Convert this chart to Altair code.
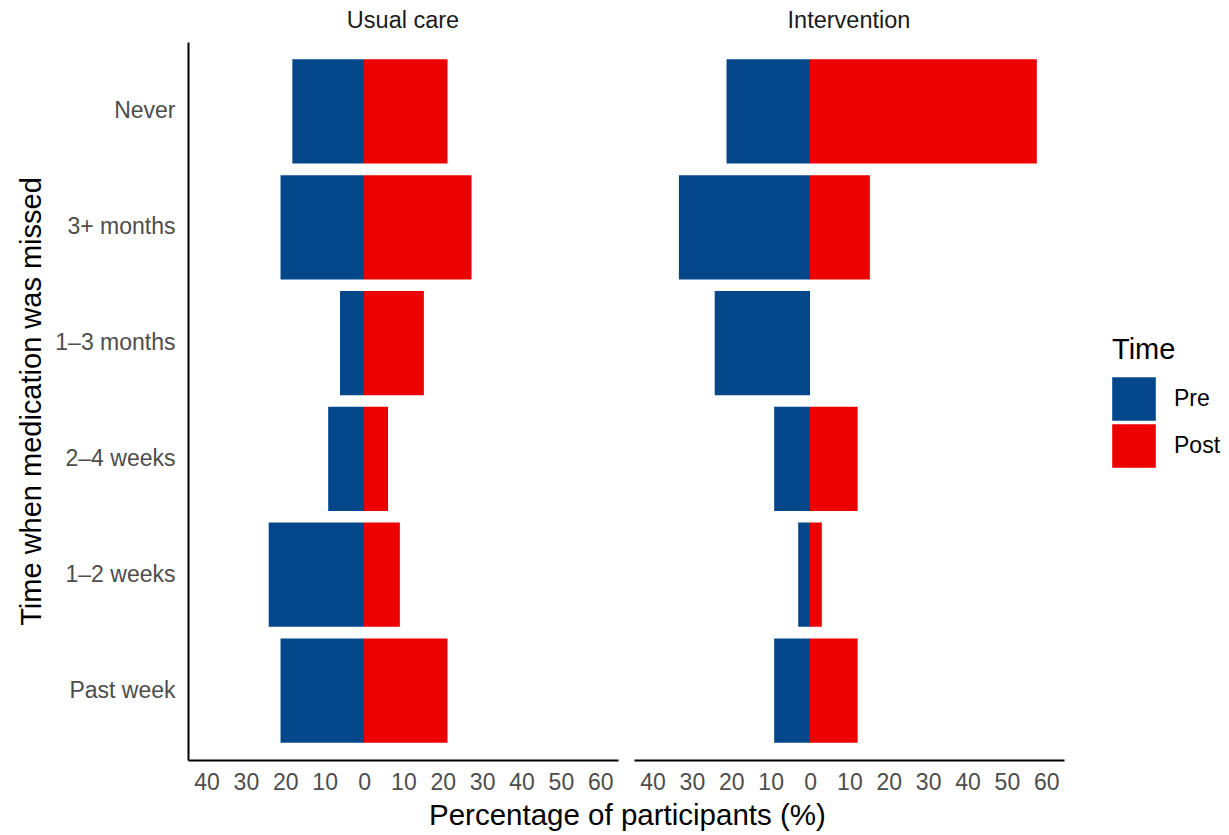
import altair as alt
import pandas as pd

categories = ["Never", "3+ months", "1–3 months", "2–4 weeks", "1–2 weeks", "Past week"]
groups = ["Usual care", "Intervention"]
times = ["Pre", "Post"]
usual_pre = [18.2, 21.2, 6.1, 9.1, 24.2, 21.2]
usual_post = [21.2, 27.3, 15.2, 6.1, 9.1, 21.2]
interv_pre = [21.2, 33.3, 24.2, 9.1, 3.0, 9.1]
interv_post = [57.6, 15.2, 0.0, 12.1, 3.0, 12.1]
tick_values = [-40, -30, -20, -10, 0, 10, 20, 30, 40, 50, 60]

rows = []
for g, pre, post in [("Usual care", usual_pre, usual_post), ("Intervention", interv_pre, interv_post)]:
    for c, v in zip(categories, pre):
        rows.append({"group": g, "cat": c, "time": "Pre", "val": -v, "zero": 0})
    for c, v in zip(categories, post):
        rows.append({"group": g, "cat": c, "time": "Post", "val": v, "zero": 0})
df = pd.DataFrame(rows)

FONT = "Liberation Sans"

base = alt.Chart(df).mark_bar().encode(
    y=alt.Y("cat:N", sort=categories,
            scale=alt.Scale(paddingInner=0.1, paddingOuter=0.15),
            axis=alt.Axis(title="Time when medication was missed", titleFontSize=29,
                          titleFontWeight="normal", titleColor="black", titlePadding=8,
                          labelFontSize=23, labelColor="#4d4d4d", labelPadding=13,
                          ticks=False, domainColor="black", domainWidth=2, grid=False)),
    x=alt.X("val:Q", scale=alt.Scale(domain=[-44.7, 64.5], nice=False, zero=False),
            axis=alt.Axis(title=None, values=tick_values, labelExpr="abs(datum.value)",
                          labelFontSize=23, labelColor="#4d4d4d", labelPadding=11,
                          ticks=False, domainColor="black", domainWidth=2, grid=False,
                          labelFlush=False, labelOverlap=False)),
    x2="zero:Q",
    color=alt.Color("time:N", sort=times,
                    scale=alt.Scale(domain=times, range=["#03468A", "#EC0000"]),
                    legend=alt.Legend(title="Time", titleFontSize=29, titleFontWeight="normal",
                                      titleColor="black", labelFontSize=23, labelColor="black",
                                      symbolType="square", symbolSize=1900, symbolStrokeWidth=0,
                                      symbolOpacity=1, labelOffset=18, rowPadding=3,
                                      titlePadding=12, orient="none", legendX=924, legendY=294)),
).properties(width=430, height=718)

chart = base.facet(
    column=alt.Column("group:N", sort=groups,
                      header=alt.Header(title=None, labelFontSize=23.5, labelColor="#1a1a1a",
                                        labelPadding=10, labelFont=FONT)),
    spacing=16,
).properties(
    title=alt.TitleParams("Percentage of participants (%)", orient="bottom", anchor="middle",
                          fontSize=29.5, fontWeight="normal", color="black", font=FONT,
                          offset=8, dx=8),
    padding={"left": 9, "top": 0, "right": 0, "bottom": 5},
).configure(font=FONT).configure_view(stroke=None)

chart.save("out.html", embed_options={"renderer": "svg", "actions": False})
